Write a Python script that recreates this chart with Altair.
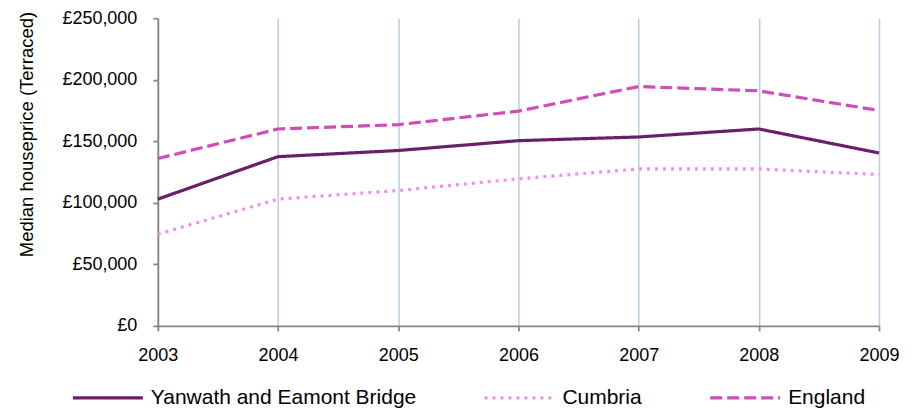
import altair as alt
import pandas as pd

years = [2003, 2004, 2005, 2006, 2007, 2008, 2009]
series_names = ["Yanwath and Eamont Bridge", "Cumbria", "England"]
yanwath = [103000, 137500, 142500, 150500, 153500, 160000, 140500]
cumbria = [74500, 103000, 110000, 119500, 127500, 127500, 123000]
england = [136000, 160000, 163500, 174500, 194500, 191000, 175000]
y_ticks = [0, 50000, 100000, 150000, 200000, 250000]

colors = ["#6B1F68", "#F78CF0", "#CF4DB5"]
dashes = [[1, 0], [3, 5], [12, 5]]

rows = []
for name, vals in zip(series_names, [yanwath, cumbria, england]):
    for yr, v in zip(years, vals):
        rows.append({"year": yr, "price": v, "series": name})
df = pd.DataFrame(rows)

FONT = "Liberation Sans"

chart = alt.Chart(df).mark_line(strokeWidth=3.2, strokeJoin="round").encode(
    x=alt.X("year:Q",
            scale=alt.Scale(domain=[2003, 2009], nice=False, zero=False),
            axis=alt.Axis(values=years, format="d", title=None, grid=True,
                          gridColor="#B9CDE5", gridWidth=1.5,
                          domainColor="#868686", domainWidth=1.8,
                          tickColor="#868686", tickWidth=1.8, tickSize=5,
                          labelFlush=False,
                          labelPadding=16, labelFontSize=18, labelColor="#000000",
                          labelFont=FONT)),
    y=alt.Y("price:Q",
            scale=alt.Scale(domain=[0, 250000], nice=False),
            axis=alt.Axis(values=y_ticks, labelExpr="'£' + format(datum.value, ',')",
                          title="Median houseprice (Terraced)", titleFontSize=18.5,
                          titleFont=FONT, titleFontWeight="normal", titleColor="#000000",
                          titleX=-131, titleY=116, titleBaseline="middle", titleAlign="center",
                          grid=False,
                          domainColor="#868686", domainWidth=1.8,
                          tickColor="#868686", tickWidth=1.8, tickSize=5,
                          labelPadding=16, labelFontSize=18, labelColor="#000000",
                          labelFont=FONT)),
    color=alt.Color("series:N", title=None,
                    scale=alt.Scale(domain=series_names, range=colors)),
    strokeDash=alt.StrokeDash("series:N", title=None,
                              scale=alt.Scale(domain=series_names, range=dashes)),
).properties(
    width=722, height=308,
    autosize=alt.AutoSizeParams(type="none"),
    padding={"left": 150, "top": 10, "right": 30, "bottom": 92},
).configure_view(
    stroke=None
).configure_legend(
    orient="none", direction="horizontal", columns=3,
    legendX=-87, legendY=343,
    symbolType="stroke", symbolSize=4900, symbolStrokeWidth=3.2,
    labelFontSize=21, labelFont=FONT, labelColor="#000000",
    labelOffset=6, columnPadding=61, labelLimit=400,
)

chart.save("out.html", embed_options={"renderer": "svg", "actions": False})
